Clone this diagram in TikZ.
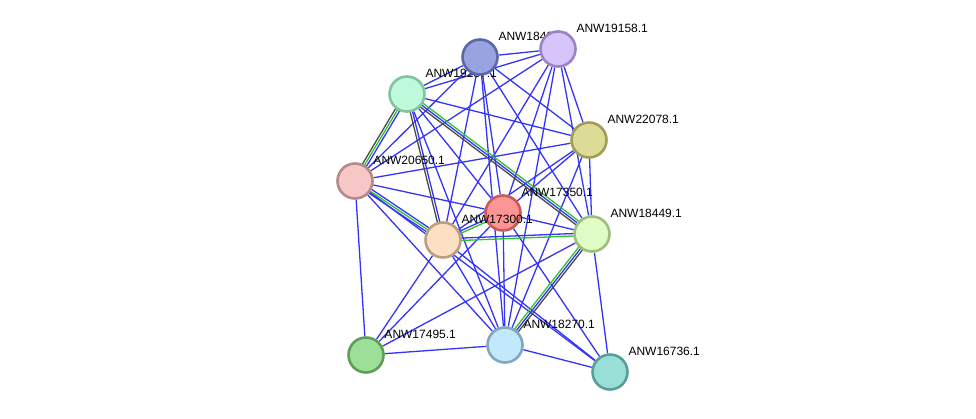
\documentclass[tikz,border=0pt]{standalone}
\usepackage{fontspec}
\setmainfont{Liberation Sans}
\usepackage{xcolor}
\usetikzlibrary{calc,backgrounds}

\definecolor{evblue}{HTML}{3434F8}
\definecolor{evgreen}{HTML}{2EC22E}
\definecolor{evgray}{HTML}{4A4A4A}

% one strand of a bundled edge, shifted sideways by #3
\newcommand{\strand}[4]{\draw[ppi, #4] ($(#1)!#3!90:(#2)$) -- ($(#2)!#3!-90:(#1)$);}

\begin{document}
\begin{tikzpicture}[
    x=1pt, y=-1pt,
    prot/.style={circle, draw, line width=2.6pt, minimum size=35pt, inner sep=0pt},
    lbl/.style={font=\fontsize{12}{14}\selectfont, inner sep=0pt,
                xshift=5pt, yshift=3pt},
    ppi/.style={line width=1.3pt},
]
\useasboundingbox (0,0) rectangle (976,418);

% Proteins (drawn in order, each label over its own node)
\node[prot, fill={rgb,255:red,190;green,249;blue,219}, draw={rgb,255:red,128;green,196;blue,160},
      label={[lbl]north east:ANW19257.1}] (n19257) at (407,94) {};
\node[prot, fill={rgb,255:red,152;green,163;blue,224}, draw={rgb,255:red,90;green,104;blue,168},
      label={[lbl]north east:ANW18490.1}] (n18490) at (480,57) {};
\node[prot, fill={rgb,255:red,213;green,197;blue,251}, draw={rgb,255:red,155;green,132;blue,194},
      label={[lbl]north east:ANW19158.1}] (n19158) at (558,49) {};
\node[prot, fill={rgb,255:red,220;green,220;blue,150}, draw={rgb,255:red,158;green,158;blue,90},
      label={[lbl]north east:ANW22078.1}] (n22078) at (589,140) {};
\node[prot, fill={rgb,255:red,247;green,199;blue,199}, draw={rgb,255:red,180;green,138;blue,138},
      label={[lbl]north east:ANW20650.1}] (n20650) at (355,181) {};
\node[prot, fill={rgb,255:red,253;green,149;blue,149}, draw={rgb,255:red,200;green,90;blue,90},
      label={[lbl]north east:ANW17350.1}] (n17350) at (503,213) {};
\node[prot, fill={rgb,255:red,253;green,223;blue,196}, draw={rgb,255:red,188;green,158;blue,128},
      label={[lbl]north east:ANW17300.1}] (n17300) at (443,240) {};
\node[prot, fill={rgb,255:red,223;green,252;blue,196}, draw={rgb,255:red,160;green,188;blue,128},
      label={[lbl]north east:ANW18449.1}] (n18449) at (592,234) {};
\node[prot, fill={rgb,255:red,157;green,223;blue,152}, draw={rgb,255:red,94;green,158;blue,88},
      label={[lbl]north east:ANW17495.1}] (n17495) at (366,355) {};
\node[prot, fill={rgb,255:red,194;green,232;blue,252}, draw={rgb,255:red,128;green,168;blue,192},
      label={[lbl]north east:ANW18270.1}] (n18270) at (505,345) {};
\node[prot, fill={rgb,255:red,152;green,223;blue,215}, draw={rgb,255:red,90;green,158;blue,152},
      label={[lbl]north east:ANW16736.1}] (n16736) at (610,372) {};

% Interactions
\begin{scope}[on background layer]
\foreach \a/\b in {n18490/n19158, n18490/n19257, n18490/n22078, n18490/n20650,
                   n18490/n17350, n18490/n17300, n18490/n18449, n18490/n18270,
                   n19158/n19257, n19158/n22078, n19158/n20650, n19158/n17350,
                   n19158/n17300, n19158/n18449, n19158/n18270,
                   n19257/n22078, n19257/n17350, n19257/n18270,
                   n22078/n20650, n22078/n17350, n22078/n17300, n22078/n18449, n22078/n18270,
                   n20650/n17350, n20650/n17495, n20650/n16736, n20650/n18270,
                   n17350/n18449, n17350/n18270, n17350/n16736, n17350/n17495,
                   n17300/n17495, n17300/n18270, n17300/n16736,
                   n18449/n17495, n18449/n16736,
                   n17495/n18270, n18270/n16736}
    \draw[ppi, evblue] (\a) -- (\b);

% bundled edges
\strand{n19257}{n20650}{-2.3pt}{evgray}
\strand{n19257}{n20650}{0pt}{evgreen}
\strand{n19257}{n20650}{2.3pt}{evblue}
\strand{n19257}{n17300}{-1.2pt}{evgray}
\strand{n19257}{n17300}{1.2pt}{evblue}
\strand{n19257}{n18449}{-2.3pt}{evgray}
\strand{n19257}{n18449}{0pt}{evblue}
\strand{n19257}{n18449}{2.3pt}{evgreen}
\strand{n20650}{n17300}{-2.3pt}{evblue}
\strand{n20650}{n17300}{0pt}{evgreen}
\strand{n20650}{n17300}{2.3pt}{evblue}
\strand{n17300}{n17350}{-1.2pt}{evgreen}
\strand{n17300}{n17350}{1.2pt}{evblue}
\strand{n17300}{n18449}{-1.2pt}{evgreen}
\strand{n17300}{n18449}{1.2pt}{evblue}
\strand{n18449}{n18270}{-2.3pt}{evgreen}
\strand{n18449}{n18270}{0pt}{evblue}
\strand{n18449}{n18270}{2.3pt}{evgray}
\end{scope}

\end{tikzpicture}
\end{document}
